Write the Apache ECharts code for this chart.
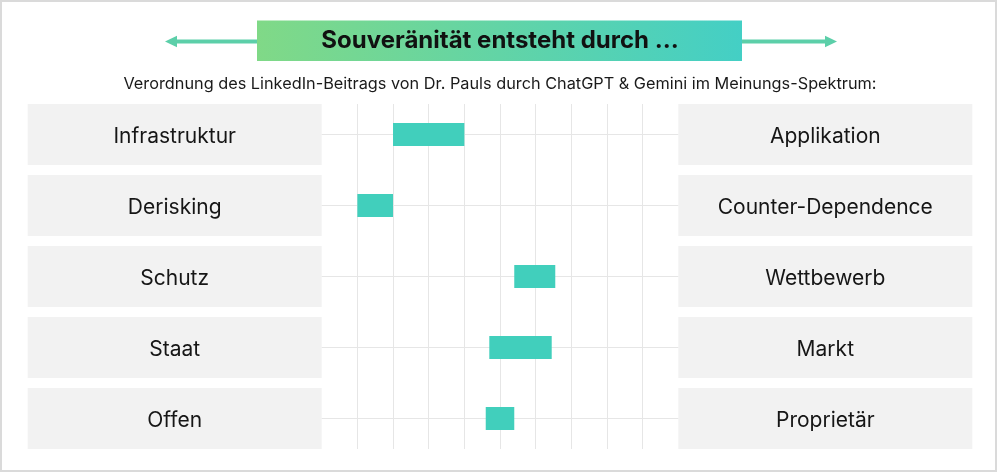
<!DOCTYPE html>
<html>
<head>
<meta charset="utf-8">
<script src="https://cdn.jsdelivr.net/npm/echarts@6/dist/echarts.min.js"></script>
<style>
html,body{margin:0;padding:0;background:#fff;}
#c{width:1000px;height:474px;}
</style>
</head>
<body>
<div id="c"></div>
<script>
var leftCategories = ['Infrastruktur', 'Derisking', 'Schutz', 'Staat', 'Offen'];
var rightCategories = ['Applikation', 'Counter-Dependence', 'Wettbewerb', 'Markt', 'Proprietär'];
var rangeStart = [20, 10, 54, 47, 46];
var rangeEnd = [40, 20, 65.5, 64.5, 54];
var titleText = 'Souveränität entsteht durch ...';
var subtitleText = 'Verordnung des LinkedIn-Beitrags von Dr. Pauls durch ChatGPT & Gemini im Meinungs-Spektrum:';

var FONT = 'Inter, Roboto, "DejaVu Sans", sans-serif';
var chart = echarts.init(document.getElementById('c'), null, {renderer: 'canvas'});

var rangeLength = rangeStart.map(function (s, i) { return +(rangeEnd[i] - s).toFixed(2); });

function panelLabel() {
  return {
    interval: 0,
    margin: 0,
    formatter: function (v) { return '{p|' + v + '}'; },
    rich: {
      p: {
        width: 294,
        height: 57,
        lineHeight: 57,
        padding: [4, 0, 0, 0],
        align: 'center',
        backgroundColor: '#f2f2f2',
        fontFamily: FONT,
        fontSize: 21,
        color: '#161616'
      }
    }
  };
}

var option = {
  backgroundColor: '#ffffff',
  animation: false,
  title: [
    {
      text: titleText,
      left: 'center',
      top: 27,
      padding: 0,
      textStyle: {fontFamily: FONT, fontSize: 24, fontWeight: 'bold', color: '#111111', lineHeight: 28}
    },
    {
      text: subtitleText,
      left: 'center',
      top: 74.5,
      padding: 0,
      textStyle: {fontFamily: FONT, fontSize: 16.3, fontWeight: 'normal', color: '#1a1a1a', lineHeight: 20}
    }
  ],
  graphic: [
    {
      type: 'rect', silent: true, z: -10,
      shape: {x: 1, y: 1, width: 995, height: 470},
      style: {fill: 'none', stroke: '#dadada', lineWidth: 2}
    },
    {
      type: 'rect', silent: true, z: -5,
      shape: {x: 257, y: 20.5, width: 485, height: 40.5},
      style: {
        fill: new echarts.graphic.LinearGradient(0, 0, 1, 0, [
          {offset: 0, color: '#80d987'},
          {offset: 1, color: '#44cfc5'}
        ])
      }
    },
    {
      type: 'line', silent: true,
      shape: {x1: 174, y1: 41.5, x2: 257, y2: 41.5},
      style: {stroke: '#5ccfa9', lineWidth: 4}
    },
    {
      type: 'polygon', silent: true,
      shape: {points: [[165, 41.5], [177, 35.8], [177, 47.2]]},
      style: {fill: '#5ccfa9'}
    },
    {
      type: 'line', silent: true,
      shape: {x1: 742, y1: 41.5, x2: 827, y2: 41.5},
      style: {stroke: '#5ccfa9', lineWidth: 4}
    },
    {
      type: 'polygon', silent: true,
      shape: {points: [[837, 41.5], [825, 35.8], [825, 47.2]]},
      style: {fill: '#5ccfa9'}
    }
  ],
  grid: [
    {left: 321.7, right: 321.7, top: 99, height: 355, containLabel: false},
    {left: 321.7, right: 321.7, top: 104, height: 345, containLabel: false}
  ],
  xAxis: [
    {gridIndex: 0, type: 'value', min: 0, max: 100, show: false},
    {
      gridIndex: 1, type: 'value', min: 0, max: 100, interval: 10,
      axisLine: {show: false}, axisTick: {show: false}, axisLabel: {show: false},
      splitLine: {show: true, showMinLine: false, showMaxLine: false, lineStyle: {color: '#e6e6e6', width: 1}}
    }
  ],
  yAxis: [
    {
      gridIndex: 0, type: 'category', inverse: true, position: 'left',
      data: leftCategories,
      axisLine: {show: false}, axisTick: {show: false}, splitLine: {show: false},
      axisLabel: panelLabel()
    },
    {
      gridIndex: 0, type: 'category', inverse: true, position: 'right',
      data: rightCategories,
      axisLine: {show: false}, axisTick: {show: false}, splitLine: {show: false},
      axisLabel: panelLabel()
    },
    {
      gridIndex: 1, type: 'value', show: false, min: 0, max: 1
    }
  ],
  series: [
    {
      type: 'bar', xAxisIndex: 0, yAxisIndex: 0, stack: 'r', z: 1,
      barWidth: 23, silent: true,
      itemStyle: {color: 'transparent'},
      data: rangeStart,
      markLine: {
        silent: true, symbol: ['none', 'none'], animation: false, z: 1,
        label: {show: false},
        lineStyle: {color: '#e6e6e6', width: 1, type: 'solid'},
        data: leftCategories.map(function (c) { return {yAxis: c}; })
      }
    },
    {
      type: 'bar', xAxisIndex: 0, yAxisIndex: 0, stack: 'r', z: 6,
      barWidth: 23,
      itemStyle: {color: '#41cfbc'},
      data: rangeLength
    },
    {
      type: 'scatter', xAxisIndex: 1, yAxisIndex: 2, data: [], silent: true
    }
  ]
};
chart.setOption(option);
</script>
</body>
</html>
